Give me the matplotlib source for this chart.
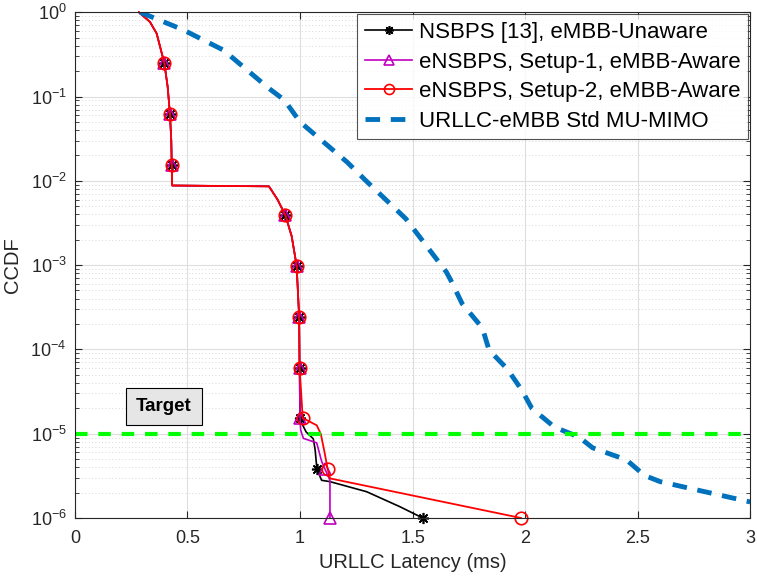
import numpy as np
import matplotlib
matplotlib.use('Agg')
import matplotlib.pyplot as plt
from matplotlib.ticker import FixedLocator, LogLocator, NullFormatter

plt.rcParams['font.family'] = ['Liberation Sans', 'DejaVu Sans']
plt.rcParams['mathtext.fontset'] = 'custom'
plt.rcParams['mathtext.rm'] = 'Liberation Sans'
plt.rcParams['mathtext.it'] = 'Liberation Sans:italic'
plt.rcParams['mathtext.bf'] = 'Liberation Sans:bold'

# shared head of the three scheduler curves (latency in ms, CCDF)
head_x = [0.284, 0.333, 0.363, 0.397, 0.412, 0.422, 0.428, 0.430, 0.432, 0.862, 0.900, 0.935, 0.963, 0.985, 0.996, 0.998]
head_y = [1.0, 0.77, 0.56, 0.25, 0.13, 0.0625, 0.03, 0.0156, 0.0088, 0.0086, 0.006, 0.0039, 0.0022, 0.00098, 0.000244, 6.1e-5]

black_tail_x = [1.000, 1.012, 1.027, 1.059, 1.067, 1.075, 1.096, 1.133, 1.296, 1.444, 1.545]
black_tail_y = [1.53e-5, 1.26e-5, 1.05e-5, 8.7e-6, 6.5e-6, 3.8e-6, 2.8e-6, 2.7e-6, 2.05e-6, 1.36e-6, 1.0e-6]

magenta_tail_x = [1.000, 1.003, 1.015, 1.074, 1.096, 1.111, 1.133, 1.133]
magenta_tail_y = [1.53e-5, 1.1e-5, 8.8e-6, 7.8e-6, 4.7e-6, 3.8e-6, 2.8e-6, 1.0e-6]

red_tail_x = [1.012, 1.074, 1.092, 1.107, 1.123, 1.133, 1.982]
red_tail_y = [1.53e-5, 1.26e-5, 1.0e-5, 6.4e-6, 3.8e-6, 2.95e-6, 1.0e-6]

std_x = [0.29, 0.48, 0.66, 0.86, 0.93, 1.00, 1.21, 1.29, 1.47, 1.65, 1.67, 1.72, 1.81, 1.84,
         1.92, 1.985, 2.03, 2.13, 2.24, 2.30, 2.45, 2.53, 2.60, 3.00]
std_y = [1.0, 0.62, 0.355, 0.126, 0.091, 0.05, 0.0166, 0.0102, 0.00355, 8.3e-4, 6.6e-4, 3.5e-4, 1.8e-4, 9.8e-5,
         5.9e-5, 3.3e-5, 2.0e-5, 1.2e-5, 9.1e-6, 6.8e-6, 4.9e-6, 3.2e-6, 2.7e-6, 1.55e-6]

target = 1e-5
labels = ['NSBPS [13], eMBB-Unaware', 'eNSBPS, Setup-1, eMBB-Aware',
          'eNSBPS, Setup-2, eMBB-Aware', 'URLLC-eMBB Std MU-MIMO']
xticks = [0, 0.5, 1, 1.5, 2, 2.5, 3]
xticklabels = ['0', '0.5', '1', '1.5', '2', '2.5', '3']
yticks = [1e-6, 1e-5, 1e-4, 1e-3, 1e-2, 1e-1, 1e0]

head_marks = [3, 5, 7, 11, 13, 14, 15]
n = len(head_x)
dark = (0.15, 0.15, 0.15)

fig = plt.figure(figsize=(7.57, 5.83), dpi=100)
ax = fig.add_axes([0.099, 0.1115, 0.892, 0.8675])

ax.plot(head_x + black_tail_x, head_y + black_tail_y, '-', color='k', lw=1.2,
        marker=(8, 2, 0), ms=8, mew=1.2, markevery=head_marks + [n, n + 5, n + 10],
        label=labels[0], clip_on=False)
ax.plot(head_x + magenta_tail_x, head_y + magenta_tail_y, '-', color='m', lw=1.2,
        marker='^', ms=9, mfc='none', mew=1.2, markevery=head_marks + [n, n + 5, n + 7],
        label=labels[1], clip_on=False)
ax.plot(head_x + red_tail_x, head_y + red_tail_y, '-', color='r', lw=1.3,
        marker='o', ms=9, mfc='none', mew=1.2, markevery=head_marks + [n, n + 4, n + 6],
        label=labels[2], clip_on=False)
ax.plot(std_x, std_y, '--', color=(0, 0.447, 0.741), lw=3.5, dashes=(3, 2.2), label=labels[3])
ax.axhline(target, color=(0, 1, 0), lw=3, ls='--', dashes=(3, 2.6))

ax.text(0.395, 2.1e-5, 'Target', fontsize=13.5, fontweight='bold', ha='center', va='center',
        bbox=dict(boxstyle='square,pad=0.55', fc=(0.9, 0.9, 0.9), ec='k', lw=0.8))

ax.set_yscale('log')
ax.set_xlim(0, 3)
ax.set_ylim(1e-6, 1)
ax.set_xticks(xticks)
ax.set_xticklabels(xticklabels)
ax.yaxis.set_major_locator(FixedLocator(yticks))
ax.yaxis.set_minor_locator(LogLocator(base=10, subs=np.arange(2, 10), numticks=20))
ax.yaxis.set_minor_formatter(NullFormatter())

ax.grid(True, which='major', color=(0.87, 0.87, 0.87), lw=0.8)
ax.grid(True, which='minor', axis='y', color=(0.8, 0.8, 0.8), lw=0.6, ls=(0, (1, 3)))
ax.set_axisbelow(True)

ax.tick_params(which='both', direction='in', top=True, right=True, labelsize=13, colors=dark)
ax.tick_params(axis='x', which='major', pad=9)
ax.tick_params(axis='y', which='major', pad=6)
ax.tick_params(which='major', length=5)
ax.tick_params(which='minor', length=3)
for s in ax.spines.values():
    s.set_color(dark)
    s.set_linewidth(0.8)

ax.set_xlabel('URLLC Latency (ms)', fontsize=14.5, color=dark, labelpad=4)
ax.set_ylabel('CCDF', fontsize=14.5, color=dark, labelpad=6)

leg = ax.legend(loc='upper right', fontsize=16, frameon=True, fancybox=False, edgecolor=dark,
                borderaxespad=0.1, handlelength=2.1, handletextpad=0.3, labelspacing=0.38,
                borderpad=0.35, markerscale=0.8)
leg.get_frame().set_linewidth(0.8)

fig.savefig('out.png', dpi=100)
